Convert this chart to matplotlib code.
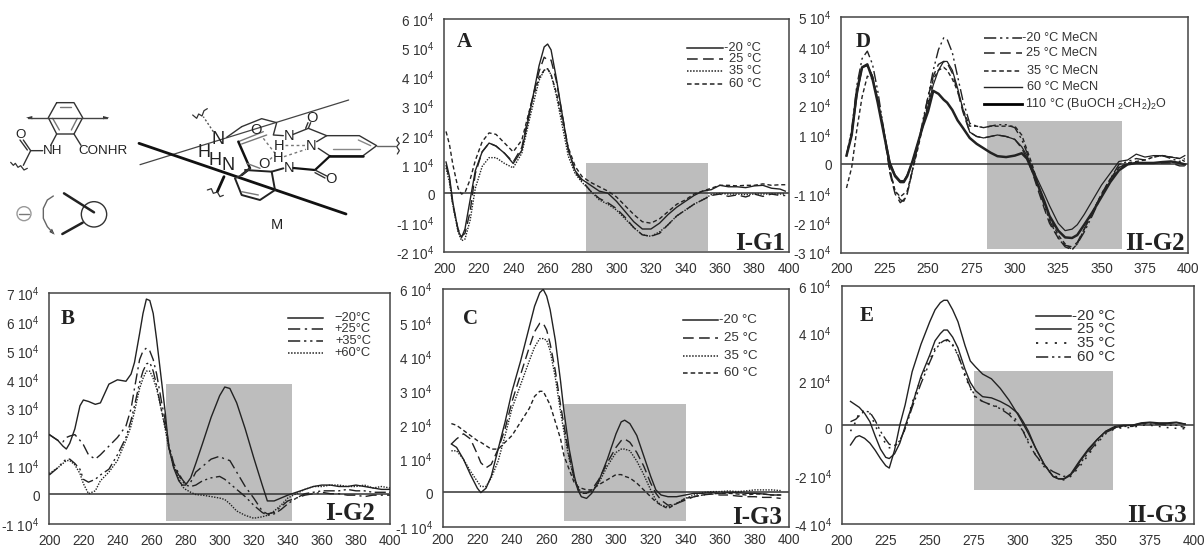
import matplotlib
matplotlib.use("Agg")
import matplotlib.pyplot as plt
from matplotlib.patches import Circle, Rectangle, Polygon

plt.rcParams['font.family'] = ['Liberation Sans', 'DejaVu Sans']
plt.rcParams['mathtext.default'] = 'regular'

W, H = 1204, 548

# ---------- data (values in units of 10^4) ----------
a_wl = [201,203,205,208,210,212,215,218,222,226,230,235,240,245,250,255,258,260,262,265,268,272,276,280,285,290,295,300,305,310,315,320,325,330,335,340,345,350,355,360,365,370,375,380,385,390,395,398]
a_m20 = [1.1,0.6,-0.3,-1.25,-1.5,-1.2,-0.2,0.8,1.45,1.75,1.65,1.4,1.05,1.5,2.9,4.4,5.05,5.15,4.95,4.0,2.9,1.5,0.8,0.5,0.3,0.1,0.03,-0.25,-0.6,-0.95,-1.2,-1.2,-1.0,-0.7,-0.45,-0.25,-0.05,0.1,0.15,0.3,0.25,0.25,0.22,0.28,0.3,0.2,0.17,0.1]
a_25 = [1.0,0.5,-0.4,-1.2,-1.45,-1.35,-0.6,0.7,1.45,1.75,1.65,1.4,1.1,1.6,3.0,4.2,4.7,4.6,4.6,3.9,2.9,1.55,0.75,0.45,0.1,-0.15,-0.3,-0.5,-0.8,-1.15,-1.4,-1.45,-1.35,-1.05,-0.75,-0.55,-0.35,-0.2,-0.05,0,-0.08,-0.03,-0.1,0,-0.08,0,-0.05,-0.05]
a_35 = [0.9,0.4,-0.4,-1.3,-1.6,-1.55,-0.9,0.2,0.95,1.25,1.25,1.05,0.9,1.4,2.7,3.9,4.25,4.3,4.1,3.4,2.5,1.3,0.7,0.4,0.1,-0.2,-0.35,-0.55,-0.85,-1.15,-1.4,-1.45,-1.3,-1.05,-0.75,-0.55,-0.35,-0.2,-0.02,0.02,0,0,-0.02,0,0,0,0,0]
a_60 = [2.15,1.7,1.0,0.2,0,0.05,0.5,1.15,1.8,2.1,2.05,1.75,1.45,1.85,3.0,4.0,4.25,4.3,4.1,3.5,2.7,1.6,0.95,0.6,0.4,0.25,0.1,-0.1,-0.4,-0.7,-0.95,-1.0,-0.85,-0.6,-0.35,-0.2,0,0.1,0.2,0.3,0.3,0.28,0.3,0.3,0.35,0.3,0.32,0.32]

b_wl = [200,205,208,210,212,215,218,220,223,227,230,235,240,245,248,250,253,255,257,259,261,263,266,268,270,273,276,278,280,283,286,290,295,300,303,306,310,315,320,325,328,332,336,340,345,350,355,360,365,370,375,380,385,390,395,400]
b_m20 = [2.1,1.9,1.7,1.6,1.8,2.3,3.1,3.3,3.25,3.15,3.2,3.85,4.0,3.95,4.2,4.6,5.6,6.3,6.8,6.75,6.3,5.4,3.9,2.9,1.7,0.95,0.5,0.35,0.35,0.6,1.1,1.8,2.7,3.45,3.75,3.7,3.2,2.3,1.3,0.35,-0.2,-0.2,-0.1,0,0.1,0.2,0.3,0.35,0.35,0.3,0.3,0.35,0.3,0.25,0.2,0.2]
b_25 = [2.1,1.9,1.85,2.0,2.05,2.1,1.9,1.75,1.4,1.25,1.4,1.7,2.0,2.4,3.0,3.7,4.7,5.0,5.1,5.0,4.7,4.2,3.2,2.6,1.8,1.1,0.75,0.55,0.4,0.45,0.8,1.0,1.25,1.35,1.25,1.2,0.8,0.3,-0.1,-0.55,-0.65,-0.6,-0.4,-0.2,-0.1,0,0.05,0.1,0.05,0.05,0,0,-0.05,0,0,0]
b_35 = [0.7,0.95,1.15,1.25,1.25,1.1,0.9,0.55,0.45,0.55,0.7,0.9,1.4,2.0,2.6,3.1,3.9,4.3,4.55,4.6,4.3,3.8,2.9,2.4,1.7,1.0,0.7,0.5,0.35,0.3,0.35,0.5,0.6,0.65,0.55,0.4,0.2,-0.05,-0.35,-0.6,-0.7,-0.65,-0.5,-0.3,-0.1,0.05,0.1,0.15,0.15,0.15,0.2,0.15,0.15,0.1,0.1,0.1]
b_60 = [0.75,0.95,1.1,1.2,1.2,1.05,0.75,0.4,0.05,0.15,0.5,0.8,1.2,1.9,2.4,2.9,3.7,4.05,4.3,4.3,4.05,3.7,2.9,2.3,1.7,1.0,0.6,0.3,0.2,0.1,0.02,0,-0.05,-0.1,-0.15,-0.3,-0.55,-0.7,-0.8,-0.75,-0.7,-0.55,-0.35,-0.1,0.05,0.2,0.3,0.3,0.35,0.35,0.3,0.3,0.35,0.25,0.3,0.25]

c_wl = [205,208,212,216,220,222,225,228,232,236,240,245,250,253,256,258,260,262,265,268,270,273,276,278,280,283,286,290,295,300,303,305,308,312,316,320,323,326,330,335,340,345,350,355,360,365,370,375,380,385,390,395]
c_m20 = [1.45,1.35,1.0,0.55,0.15,0.02,0.15,0.5,1.3,2.1,3.0,3.9,4.9,5.5,5.9,6.0,5.8,5.4,4.5,3.3,2.4,1.3,0.5,0.1,-0.1,-0.15,0,0.35,1.0,1.75,2.1,2.15,2.05,1.7,1.1,0.5,0.1,-0.05,-0.1,-0.1,-0.05,0,0,0.02,0,0.02,0.02,0,0,-0.02,-0.05,-0.05]
c_25 = [1.45,1.6,1.75,1.6,1.15,0.9,0.75,0.85,1.3,1.9,2.7,3.5,4.3,4.75,5.0,5.0,4.8,4.4,3.6,2.6,2.0,1.1,0.4,0.15,0,0,0.1,0.4,0.9,1.35,1.55,1.6,1.5,1.2,0.8,0.3,0,-0.2,-0.35,-0.3,-0.2,-0.1,-0.05,-0.02,-0.05,-0.05,-0.08,-0.1,-0.1,-0.12,-0.12,-0.15]
c_35 = [1.25,1.25,1.0,0.65,0.35,0.2,0.2,0.45,0.95,1.7,2.5,3.2,3.9,4.3,4.55,4.55,4.5,4.2,3.4,2.4,1.8,1.0,0.4,0.2,0,0,0.05,0.3,0.8,1.2,1.3,1.3,1.25,0.95,0.55,0.1,-0.2,-0.35,-0.4,-0.3,-0.15,-0.05,0.02,0.05,0.05,0.07,0.05,0.07,0.1,0.1,0.1,0.08]
c_60 = [2.05,2.0,1.85,1.7,1.55,1.5,1.4,1.3,1.3,1.5,1.7,2.1,2.5,2.85,3.0,3.0,2.8,2.6,2.1,1.6,1.1,0.7,0.3,0.2,0.15,0.1,0.1,0.25,0.4,0.55,0.55,0.5,0.45,0.3,0.1,-0.1,-0.25,-0.35,-0.45,-0.3,-0.15,-0.1,-0.05,-0.02,0,0,-0.02,-0.05,-0.02,-0.02,-0.05,-0.05]

d_wl = [203,206,209,212,215,218,221,225,228,231,234,236,238,241,244,247,250,253,256,259,261,264,267,270,274,278,282,286,290,295,300,304,307,310,313,317,320,325,329,333,336,340,345,350,355,360,365,370,375,380,385,390,395,398]
d_m20 = [0.3,1.2,2.7,3.6,3.85,3.4,2.5,1.0,-0.2,-0.9,-1.2,-1.25,-1.0,-0.2,0.6,1.5,2.3,3.2,3.9,4.3,4.25,3.8,3.0,2.2,1.4,1.3,1.25,1.3,1.35,1.35,1.25,0.85,0.4,-0.1,-0.7,-1.4,-1.9,-2.5,-2.8,-2.9,-2.7,-2.3,-1.7,-1.05,-0.5,0,0.1,0.2,0.15,0.25,0.3,0.2,0.1,0.2]
d_25 = [0.3,1.1,2.5,3.3,3.35,3.0,2.2,0.9,-0.3,-1.0,-1.3,-1.2,-1.0,-0.2,0.6,1.4,2.3,3.0,3.4,3.5,3.45,3.1,2.5,1.8,1.1,0.95,0.9,0.95,1.0,0.95,0.85,0.55,0.2,-0.25,-0.8,-1.5,-2.0,-2.5,-2.75,-2.8,-2.65,-2.2,-1.6,-1.0,-0.5,-0.1,0,0.05,0.05,0.05,0.05,0.05,-0.05,-0.05]
d_35 = [-0.8,-0.1,1.2,2.3,3.0,2.9,2.2,1.0,-0.2,-0.9,-1.1,-1.0,-0.9,-0.2,0.5,1.3,2.1,2.9,3.2,3.3,3.2,2.9,2.5,1.9,1.3,1.3,1.25,1.3,1.3,1.3,1.3,1.0,0.5,0,-0.6,-1.3,-1.8,-2.4,-2.7,-2.9,-2.7,-2.2,-1.6,-1.0,-0.5,-0.1,0.05,0.1,0.15,0.25,0.3,0.25,0.2,0.1]
d_60 = [0.3,1.0,2.3,3.3,3.4,3.0,2.2,1.0,0.1,-0.35,-0.55,-0.55,-0.35,0.1,0.7,1.3,2.0,2.7,3.2,3.5,3.5,3.2,2.6,1.9,1.1,0.95,0.9,0.95,1.0,0.95,0.85,0.6,0.3,-0.1,-0.5,-1.0,-1.4,-2.0,-2.25,-2.2,-2.05,-1.7,-1.2,-0.7,-0.3,0.1,0.15,0.35,0.25,0.3,0.3,0.25,0.2,0.3]
d_110 = [0.3,1.0,2.5,3.3,3.4,2.9,2.1,0.9,0,-0.4,-0.6,-0.6,-0.4,0.1,0.7,1.3,1.8,2.5,2.4,2.2,2.1,1.85,1.5,1.25,0.9,0.7,0.55,0.4,0.28,0.25,0.3,0.38,0.2,-0.2,-0.65,-1.25,-1.75,-2.25,-2.48,-2.5,-2.4,-2.05,-1.6,-1.1,-0.6,-0.2,0,0.05,0.05,0.05,0.08,0.1,0.05,0]

e_wl = [205,208,210,213,216,219,222,225,227,230,233,236,240,245,250,253,256,258,260,263,266,270,273,276,280,285,290,295,300,303,306,310,315,320,323,326,330,335,340,345,350,355,360,365,370,375,380,385,390,395]
e_m20 = [-0.68,-0.35,-0.29,-0.4,-0.6,-0.9,-1.25,-1.55,-1.65,-0.9,0.16,1.0,2.4,3.55,4.5,5.0,5.3,5.4,5.4,5.0,4.5,3.5,2.85,2.6,2.3,2.1,1.7,1.2,0.6,0.2,-0.2,-0.8,-1.5,-2.0,-2.1,-2.12,-1.95,-1.4,-0.9,-0.45,-0.1,0.1,0.15,0.15,0.25,0.28,0.25,0.25,0.28,0.2]
e_25 = [1.15,1.0,0.9,0.65,0.3,-0.3,-0.85,-1.2,-1.25,-1.05,-0.6,0.1,1.0,2.2,3.1,3.7,4.0,4.15,4.15,3.85,3.4,2.5,1.95,1.6,1.35,1.3,1.15,0.95,0.65,0.3,-0.1,-0.8,-1.5,-2.0,-2.1,-2.1,-1.9,-1.35,-0.85,-0.45,-0.1,0.05,0.12,0.15,0.22,0.25,0.22,0.22,0.25,0.2]
e_35 = [-0.1,0.3,0.7,0.75,0.65,0.15,-0.35,-0.6,-0.8,-0.75,-0.5,0,1.1,2.1,2.9,3.4,3.65,3.7,3.7,3.5,3.1,2.2,1.7,1.3,1.15,1.0,0.9,0.7,0.3,-0.1,-0.5,-1.1,-1.6,-1.95,-2.05,-2.15,-2.0,-1.6,-1.1,-0.6,-0.2,0,0.05,0.05,0.15,0.15,0.1,0.05,0.02,0]
e_60 = [0.3,0.4,0.55,0.75,0.7,0.35,-0.1,-0.45,-0.65,-0.7,-0.5,0,0.9,1.9,2.8,3.3,3.6,3.7,3.75,3.55,3.1,2.3,1.75,1.35,1.15,1.0,0.85,0.6,0.2,-0.1,-0.6,-1.1,-1.55,-1.8,-1.9,-2.0,-1.95,-1.5,-1,-0.55,-0.15,0.02,0.1,0.1,0.22,0.2,0.2,0.15,0.15,0.05]

ticks_20 = [200,220,240,260,280,300,320,340,360,380,400]
ticks_25 = [200,225,250,275,300,325,350,375,400]

a_labels = ['-20 °C', '25 °C', '35 °C', '60 °C']
b_labels = ['\u221220°C', '+25°C', '+35°C', '+60°C']
d_labels = ['-20 °C MeCN', '25 °C MeCN', '35 °C MeCN', '60 °C MeCN']

SOLID = '-'
LONG = (0, (7, 3.5))
DOT = (0, (1, 1))
DASH = (0, (3, 2))
LONGDOT = (0, (8, 3, 1.5, 3))
LDD = (0, (8, 2.5, 1.5, 2.5, 1.5, 2.5))
WDOT = (0, (1.2, 4))
LINEC = '#222222'
GRAY = '#bdbdbd'

fig = plt.figure(figsize=(W / 100, H / 100), dpi=100, facecolor='white')


def make_axes(box, ylim, yticks, xticks, rect, zero=0.0, fs=9.8, xpad=7):
    x0, x1, y0, y1 = box
    ax = fig.add_axes([x0 / W, 1 - y1 / H, (x1 - x0) / W, (y1 - y0) / H])
    ax.set_xlim(200, 400)
    ax.set_ylim(*ylim)
    ax.set_xticks(xticks)
    ax.set_yticks(yticks)
    ax.set_yticklabels(['0' if t == 0 else f'{t} 10$^4$' for t in yticks])
    ax.tick_params(length=0, labelsize=fs, colors='#333333', pad=7)
    ax.tick_params(axis='x', pad=xpad)
    for s in ax.spines.values():
        s.set_color('#444444')
        s.set_linewidth(1.1)
    ax.add_patch(Rectangle((rect[0], rect[2]), rect[1] - rect[0], rect[3] - rect[2],
                           fc=GRAY, ec='none', zorder=1))
    ax.axhline(zero, color='#333333', lw=1.1, zorder=2)
    return ax


def curves(ax, wl, series):
    for vals, ls, lw in series:
        ax.plot(wl, vals, color=LINEC, ls=ls, lw=lw, zorder=3)


axA = make_axes((444.3, 788.7, 19.3, 252.3), (-2, 6), range(-2, 7), ticks_20, (282.3, 352.9, -1.95, 1.06), zero=0.02)
curves(axA, a_wl, [(a_m20, SOLID, 1.0), (a_25, LONG, 1.0), (a_35, DOT, 1.0), (a_60, DASH, 1.0)])

axB = make_axes((49.3, 390, 293.3, 524), (-1, 7), range(-1, 8), ticks_20, (268.3, 342.3, -0.88, 3.87), zero=0.04)
curves(axB, b_wl, [(b_m20, SOLID, 1.0), (b_25, LONGDOT, 1.0), (b_35, LDD, 1.0), (b_60, DOT, 1.0)])

axC = make_axes((442.7, 789.3, 289.3, 527.3), (-1, 6), range(-1, 7), ticks_20, (270, 340.2, -0.8, 2.64), zero=0.04, xpad=4)
curves(axC, c_wl, [(c_m20, SOLID, 1.0), (c_25, LONG, 1.0), (c_35, DOT, 1.0), (c_60, DASH, 1.0)])

axD = make_axes((841.3, 1188.3, 17.3, 252.7), (-3, 5), range(-3, 6), ticks_25, (283.8, 361.6, -2.88, 1.48), zero=0.0)
curves(axD, d_wl, [(d_m20, LDD, 1.0), (d_25, LONG, 1.0), (d_35, DASH, 1.0), (d_60, SOLID, 0.9), (d_110, SOLID, 1.8)])

axE = make_axes((841.7, 1194, 286, 524), (-4, 6), [-4, -2, 0, 2, 4, 6], ticks_25, (274.9, 353.8, -2.57, 2.44), zero=0.15)
curves(axE, e_wl, [(e_m20, SOLID, 1.0), (e_25, SOLID, 1.0), (e_35, WDOT, 1.1), (e_60, LDD, 1.0)])

# ---------- overlay in pixel coordinates ----------
ov = fig.add_axes([0, 0, 1, 1], facecolor='none')
ov.set_xlim(0, W)
ov.set_ylim(H, 0)
ov.axis('off')


def legend(x0, x1, ys, tx, labels, styles, fs=9.3, right=True):
    for y, lab, (ls, lw) in zip(ys, labels, styles):
        ov.plot([x0, x1], [y, y], color=LINEC, ls=ls, lw=lw)
        ov.text(tx, y, lab, ha='right' if right else 'left', va='center', fontsize=fs, color='#333333')


four = [(SOLID, 1.1), (LONG, 1.1), (DOT, 1.1), (DASH, 1.1)]
legend(687.3, 723.3, [47.7, 59.3, 71, 84], 761, a_labels, four)
legend(288.3, 323.3, [317.7, 329.3, 340.7, 353.3], 371, b_labels,
       [(SOLID, 1.1), (LONGDOT, 1.1), (LDD, 1.1), (DOT, 1.1)])
legend(682.7, 718.3, [320, 338, 356, 372.7], 757.3, a_labels, four, fs=9.6)
legend(984.3, 1021.7, [38.3, 53.3, 71, 86.7], 1097.7, d_labels,
       [(LDD, 1.1), (LONG, 1.1), (DASH, 1.1), (SOLID, 1.0)], fs=9.2)
ov.plot([984.3, 1021.7], [104.3, 104.3], color='black', lw=2.0)
ov.text(1025, 104.3, '110 °C (BuOCH $_{2}$CH$_{2}$)$_{2}$O', ha='left', va='center', fontsize=9.0, color='#333333')
legend(1036, 1070.7, [315.7, 329.3, 342.7, 356.7], 1115.3, a_labels,
       [(SOLID, 1.1), (SOLID, 1.1), (WDOT, 1.3), (LDD, 1.1)], fs=11)

serif = ['Liberation Serif', 'DejaVu Serif']
for x, y, s in [(464, 42, 'A'), (68, 319, 'B'), (471, 319, 'C'), (863, 42, 'D'), (867, 316, 'E')]:
    ov.text(x, y, s, ha='center', va='center', family=serif, weight='bold', fontsize=15, color='#222222')
for x, y, s in [(785, 243, 'I-G1'), (375, 513, 'I-G2'), (782, 517, 'I-G3'), (1185, 243, 'II-G2'), (1187, 515, 'II-G3')]:
    ov.text(x, y, s, ha='right', va='center', family=serif, weight='bold', fontsize=18, color='#222222')

# ---------- chemical scheme (coordinates on a 3x grid) ----------
def seg(pts, lw=1.0, c='#333333', ls='-'):
    ov.plot([p[0] / 3 for p in pts], [p[1] / 3 for p in pts], color=c, lw=lw, ls=ls, solid_capstyle='round')


def label(x, y, s, fs=9.6):
    ov.text(x / 3, y / 3, s, ha='center', va='center', fontsize=fs, color='#222222')


# left benzene and substituents
seg([(170, 308), (222, 308), (248, 353), (222, 402), (170, 402), (145, 353), (170, 308)])
seg([(180, 320), (214, 320)], c='#777777')
seg([(232, 355), (214, 390)], c='#777777')
seg([(158, 355), (178, 390)], c='#777777')
seg([(85, 353), (320, 353)], c='#444444')
ov.add_patch(Polygon([(78 / 3, 353 / 3), (97 / 3, 348 / 3), (97 / 3, 358 / 3)], fc='#333333', ec='none'))
ov.add_patch(Polygon([(328 / 3, 353 / 3), (309 / 3, 348 / 3), (309 / 3, 358 / 3)], fc='#333333', ec='none'))
seg([(170, 402), (152, 436)])
seg([(222, 402), (243, 436)])
seg([(128, 452), (92, 452), (70, 420)])
seg([(82, 450), (60, 420)])
seg([(92, 452), (70, 496)])
seg([(32, 487), (40, 496), (46, 490), (54, 502), (62, 497), (72, 510), (82, 505)], lw=0.9)
label(63, 404, 'O')
label(158, 452, 'NH')
label(308, 452, 'CONHR')

# Newman projection
ov.add_patch(Circle((72 / 3, 641 / 3), 21 / 3, fc='white', ec='#999999', lw=1.0))
seg([(58, 641), (86, 641)], c='#777777')
seg([(160, 588), (142, 600), (130, 625), (130, 655), (142, 680), (160, 700)], c='#666666')
ov.add_patch(Polygon([(164 / 3, 704 / 3), (148 / 3, 696 / 3), (156 / 3, 686 / 3)], fc='#333333', ec='none'))
ov.add_patch(Circle((282 / 3, 643 / 3), 38 / 3, fc='none', ec='#333333', lw=1.0))
seg([(192, 580), (282, 637)], lw=1.8, c='#222222')
seg([(187, 702), (248, 668)], lw=1.8, c='#222222')

# helix
seg([(420, 494), (1046, 300)], lw=0.9, c='#444444')
seg([(417, 430), (1038, 642)], lw=2.0, c='#111111')
seg([(980, 407), (1078, 407), (1130, 437), (1088, 468), (990, 468), (955, 445)], lw=1.0)
seg([(1088, 468), (990, 468)], lw=1.8, c='#111111')
seg([(980, 407), (950, 425)], lw=1.0)
seg([(1000, 447), (1080, 447)], c='#888888')
seg([(1075, 420), (1112, 437)], c='#888888')
seg([(1130, 437), (1185, 437)], c='#666666')
seg([(1195, 412), (1190, 420), (1198, 430), (1190, 440), (1198, 452), (1192, 462)], lw=0.9)
seg([(880, 403), (925, 385), (980, 407)])
seg([(925, 385), (932, 368)])
seg([(917, 385), (924, 368)])
seg([(880, 504), (945, 510), (990, 468)], lw=1.6, c='#111111')
seg([(945, 510), (980, 528)])
seg([(945, 518), (975, 534)])
label(937, 354, 'O', 10.5)
label(992, 538, 'O', 10.5)
label(866, 407, 'N', 10.5)
label(866, 503, 'N', 10.5)
label(934, 438, 'N', 10.5)
label(838, 437, 'H', 10.5)
label(835, 475, 'H', 10.5)
seg([(855, 435), (918, 435)], ls=(0, (2, 2)), c='#777777')
seg([(852, 470), (918, 448)], ls=(0, (2, 2)), c='#777777')
seg([(790, 415), (825, 460)], ls=(0, (2, 2)), c='#777777')
seg([(810, 478), (825, 465)], ls=(0, (2, 2)), c='#777777')
seg([(725, 380), (785, 356), (830, 368), (820, 405), (850, 407)])
seg([(725, 380), (680, 412)])
seg([(715, 425), (790, 395)], c='#777777')
seg([(725, 432), (800, 405)], c='#777777')
seg([(715, 425), (750, 505), (725, 525)], lw=1.8, c='#111111')
seg([(740, 490), (780, 505)], c='#777777')
seg([(735, 510), (815, 515), (850, 505)], lw=1.4, c='#222222')
seg([(705, 535), (725, 585), (780, 600), (825, 570), (815, 515)], lw=1.4, c='#222222')
seg([(725, 575), (775, 585)], c='#777777')
seg([(750, 505), (725, 525), (705, 535)], lw=1.2)
seg([(640, 395), (610, 350)], ls=(0, (1.5, 1.5)), c='#555555')
seg([(578, 345), (590, 355), (596, 342), (606, 348), (612, 332), (622, 326)], lw=0.9)
seg([(672, 530), (652, 575)], lw=2.0, c='#111111')
seg([(622, 570), (634, 566), (640, 580), (652, 576), (660, 590), (670, 586)], lw=0.9)
label(655, 418, 'N', 13)
label(768, 390, 'O', 10.5)
label(792, 492, 'O', 10.5)
label(612, 458, 'H', 13)
label(645, 482, 'H', 13)
label(685, 498, 'N', 13)
label(832, 675, 'M', 10.5)

fig.savefig('out.png', dpi=100)
